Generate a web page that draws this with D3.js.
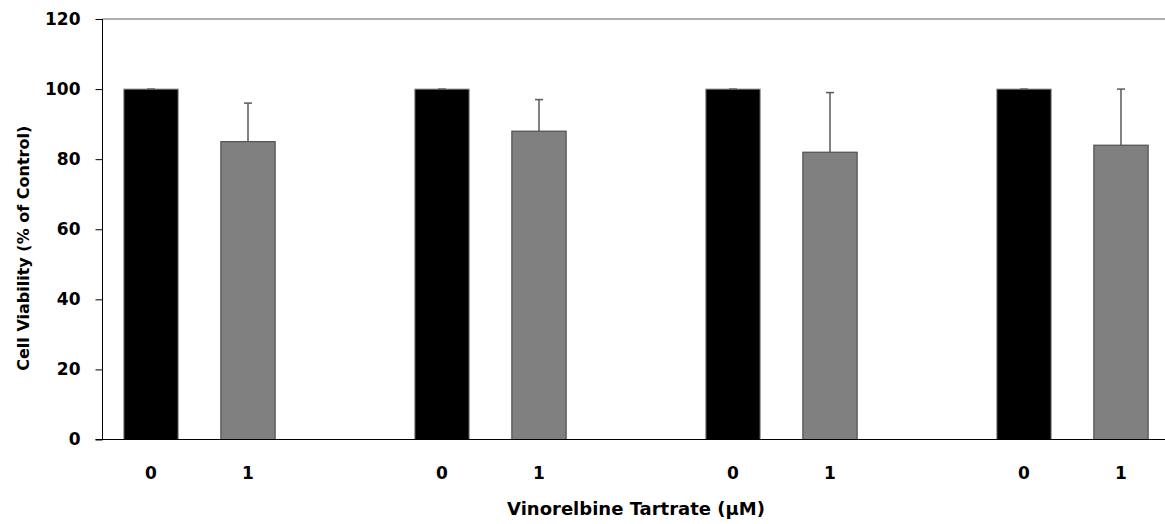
<!DOCTYPE html>
<html>
<head>
<meta charset="utf-8">
<script src="https://cdn.jsdelivr.net/npm/d3@7"></script>
<style>
  body { margin: 0; background: #fff; }
  text { font-family: "DejaVu Sans", sans-serif; font-weight: bold; fill: #000; }
</style>
</head>
<body>
<script>
// slots along the x axis, blanks separate the four pairs
const slots = ['a0', 'a1', 'gap1', 'b0', 'b1', 'gap2', 'c0', 'c1', 'gap3', 'd0', 'd1'];
const tickLabels = ['0', '1', '', '0', '1', '', '0', '1', '', '0', '1'];
const barSlots = ['a0', 'a1', 'b0', 'b1', 'c0', 'c1', 'd0', 'd1'];
const viability = [100, 85, 100, 88, 100, 82, 100, 84];
const errUpper = [0, 11, 0, 9, 0, 17, 0, 16];
const dose = [0, 1, 0, 1, 0, 1, 0, 1];
const yTicks = [0, 20, 40, 60, 80, 100, 120];

const W = 1165, H = 524;
const plotLeft = 102.5, plotTop = 19, plotBottom = 439.5;

const svgElem = document.createElementNS('http://www.w3.org/2000/svg', 'svg');
document.body.append(svgElem);
const svg = d3.select(svgElem).attr('width', W).attr('height', H);

const bars = barSlots.map((s, i) => ({ slot: s, value: viability[i], err: errUpper[i], dose: dose[i] }));

/** x band scale, one step is ~97px */
const x = d3.scaleBand()
  .domain(slots)
  .range([plotLeft, plotLeft + 97 * slots.length])
  .paddingInner(0.44)
  .paddingOuter(0.22);

const y = d3.scaleLinear().domain([0, 120]).range([plotBottom, plotTop]);

// top border line at 120
svg.append('line')
  .attr('x1', plotLeft).attr('x2', W)
  .attr('y1', y(120)).attr('y2', y(120))
  .attr('stroke', '#5a5a5a').attr('stroke-width', 1);

// bars
svg.append('g')
  .selectAll('rect')
  .data(bars)
  .enter().append('rect')
  .attr('x', d => x(d.slot))
  .attr('width', x.bandwidth())
  .attr('y', d => y(d.value))
  .attr('height', d => y(0) - y(d.value))
  .attr('fill', d => d.dose === 0 ? '#000' : '#808080')
  .attr('stroke', d => d.dose === 0 ? '#8a8a8a' : '#404040')
  .attr('stroke-width', 1);

// error bars (upper only)
const errG = svg.append('g')
  .selectAll('g')
  .data(bars)
  .enter().append('g')
  .attr('stroke', '#595959')
  .attr('stroke-width', 1.5);

errG.append('line')
  .attr('x1', d => x(d.slot) + x.bandwidth() / 2)
  .attr('x2', d => x(d.slot) + x.bandwidth() / 2)
  .attr('y1', d => y(d.value))
  .attr('y2', d => y(d.value + d.err));

errG.append('line')
  .attr('x1', d => x(d.slot) + x.bandwidth() / 2 - 4)
  .attr('x2', d => x(d.slot) + x.bandwidth() / 2 + 4)
  .attr('y1', d => y(d.value + d.err))
  .attr('y2', d => y(d.value + d.err));

// y axis
const yAxis = svg.append('g')
  .attr('transform', `translate(${plotLeft},0)`)
  .call(d3.axisLeft(y).tickValues(yTicks).tickSize(7).tickPadding(15));
yAxis.select('.domain').attr('stroke', '#000').attr('d', `M0,${y(120)}V${y(0)}`);
yAxis.selectAll('.tick line').attr('stroke', '#000');
yAxis.selectAll('text')
  .attr('font-size', 17)
  .attr('font-family', 'DejaVu Sans')
  .attr('font-weight', 'bold');

// x axis line
svg.append('line')
  .attr('x1', plotLeft - 7).attr('x2', W)
  .attr('y1', y(0)).attr('y2', y(0))
  .attr('stroke', '#000').attr('stroke-width', 1);

// x tick labels
svg.append('g')
  .selectAll('text')
  .data(slots.filter((s, i) => tickLabels[i] !== ''))
  .enter().append('text')
  .attr('x', d => x(d) + x.bandwidth() / 2)
  .attr('y', 479)
  .attr('text-anchor', 'middle')
  .attr('font-size', 17)
  .text(d => tickLabels[slots.indexOf(d)]);

// axis titles
svg.append('text')
  .attr('x', 636)
  .attr('y', 515)
  .attr('text-anchor', 'middle')
  .attr('font-size', 18)
  .text('Vinorelbine Tartrate (\u03bcM)');

svg.append('text')
  .attr('transform', `translate(29,${(y(0) + y(120)) / 2 + 19}) rotate(-90)`)
  .attr('text-anchor', 'middle')
  .attr('font-size', 16)
  .text('Cell Viability (% of Control)');
</script>
</body>
</html>
